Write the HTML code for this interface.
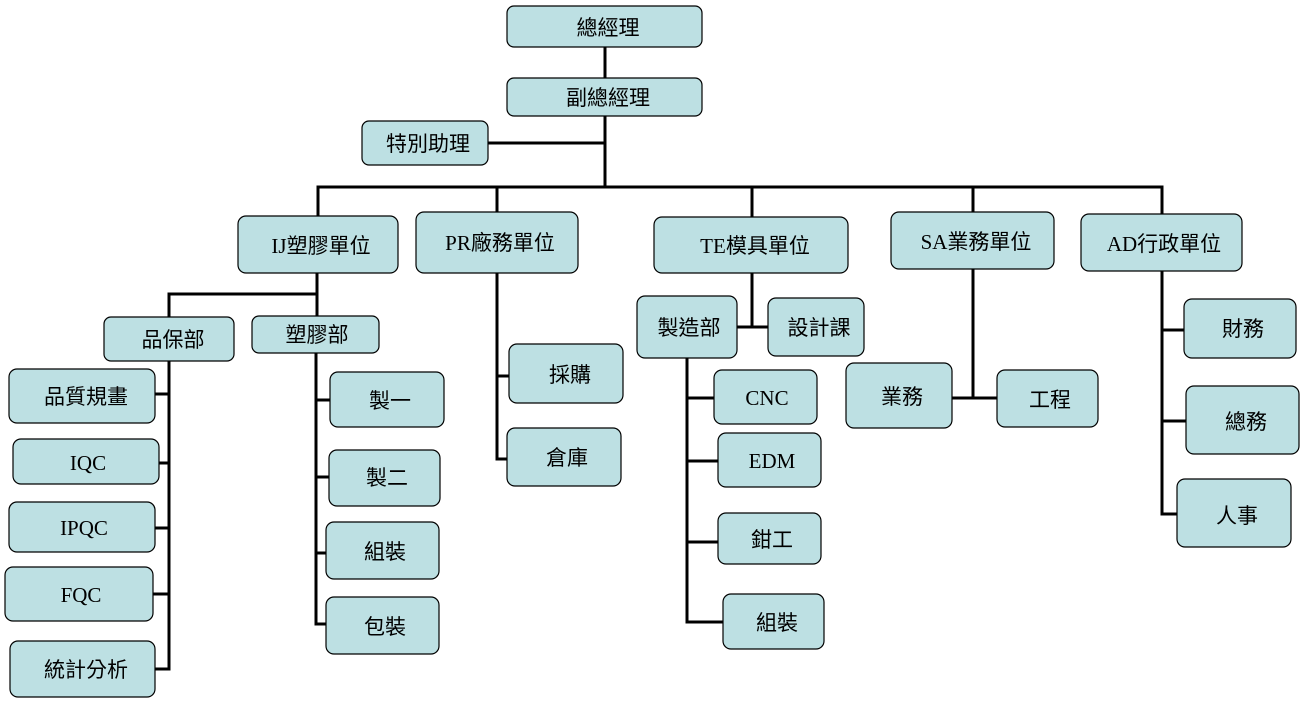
<!DOCTYPE html>
<html>
<head>
<meta charset="utf-8">
<style>
html,body{margin:0;padding:0;background:#fff;}
svg{display:block;}
text{font-family:"Liberation Serif","Noto Sans CJK TC","Noto Sans CJK SC",serif;font-size:21px;fill:#000;}
</style>
</head>
<body>
<svg width="1304" height="702" viewBox="0 0 1304 702" xmlns="http://www.w3.org/2000/svg">
<g stroke="#000" stroke-width="3" stroke-linecap="square" fill="none">
<line x1="605" y1="47" x2="605" y2="187"/>
<line x1="488" y1="143" x2="605" y2="143"/>
<line x1="318" y1="187" x2="1162" y2="187"/>
<line x1="318" y1="187" x2="318" y2="216"/>
<line x1="497" y1="187" x2="497" y2="212"/>
<line x1="752" y1="187" x2="752" y2="217"/>
<line x1="973" y1="187" x2="973" y2="212"/>
<line x1="1162" y1="187" x2="1162" y2="214"/>
<!-- IJ -->
<line x1="317" y1="273" x2="317" y2="316"/>
<line x1="169" y1="294" x2="317" y2="294"/>
<line x1="169" y1="294" x2="169" y2="317"/>
<line x1="169" y1="361" x2="169" y2="669"/>
<line x1="155" y1="394" x2="169" y2="394"/>
<line x1="159" y1="463" x2="169" y2="463"/>
<line x1="155" y1="528" x2="169" y2="528"/>
<line x1="153" y1="594" x2="169" y2="594"/>
<line x1="155" y1="669" x2="169" y2="669"/>
<line x1="316" y1="353" x2="316" y2="624"/>
<line x1="316" y1="400" x2="330" y2="400"/>
<line x1="316" y1="477" x2="329" y2="477"/>
<line x1="316" y1="553" x2="326" y2="553"/>
<line x1="316" y1="624" x2="326" y2="624"/>
<!-- PR -->
<line x1="497" y1="273" x2="497" y2="459"/>
<line x1="497" y1="376" x2="509" y2="376"/>
<line x1="497" y1="459" x2="507" y2="459"/>
<!-- TE -->
<line x1="752" y1="273" x2="752" y2="327"/>
<line x1="737" y1="327" x2="768" y2="327"/>
<line x1="687" y1="358" x2="687" y2="622"/>
<line x1="687" y1="398" x2="714" y2="398"/>
<line x1="687" y1="461" x2="718" y2="461"/>
<line x1="687" y1="542" x2="718" y2="542"/>
<line x1="687" y1="622" x2="723" y2="622"/>
<!-- SA -->
<line x1="973" y1="269" x2="973" y2="398"/>
<line x1="952" y1="398" x2="997" y2="398"/>
<!-- AD -->
<line x1="1162" y1="271" x2="1162" y2="514"/>
<line x1="1162" y1="330" x2="1184" y2="330"/>
<line x1="1162" y1="421" x2="1186" y2="421"/>
<line x1="1162" y1="514" x2="1177" y2="514"/>
</g>
<g fill="#BDE0E3" stroke="#000" stroke-width="1.2">
<rect x="507" y="6" width="195" height="41" rx="7"/>
<rect x="507" y="78" width="195" height="38" rx="7"/>
<rect x="362" y="121" width="126" height="44" rx="7"/>
<rect x="238" y="216" width="160" height="57" rx="8"/>
<rect x="416" y="212" width="162" height="61" rx="8"/>
<rect x="654" y="217" width="194" height="56" rx="8"/>
<rect x="891" y="212" width="163" height="57" rx="8"/>
<rect x="1081" y="214" width="161" height="57" rx="8"/>
<rect x="104" y="317" width="130" height="44" rx="7"/>
<rect x="252" y="316" width="127" height="37" rx="7"/>
<rect x="9" y="369" width="146" height="54" rx="8"/>
<rect x="13" y="439" width="146" height="45" rx="8"/>
<rect x="9" y="502" width="146" height="50" rx="8"/>
<rect x="5" y="567" width="148" height="54" rx="8"/>
<rect x="10" y="641" width="145" height="56" rx="8"/>
<rect x="330" y="372" width="114" height="55" rx="8"/>
<rect x="329" y="450" width="111" height="56" rx="8"/>
<rect x="326" y="522" width="113" height="57" rx="8"/>
<rect x="326" y="597" width="113" height="57" rx="8"/>
<rect x="509" y="344" width="114" height="59" rx="8"/>
<rect x="507" y="428" width="114" height="58" rx="8"/>
<rect x="637" y="296" width="100" height="62" rx="8"/>
<rect x="768" y="298" width="96" height="58" rx="8"/>
<rect x="714" y="370" width="103" height="54" rx="8"/>
<rect x="718" y="433" width="103" height="54" rx="8"/>
<rect x="718" y="513" width="103" height="51" rx="8"/>
<rect x="723" y="594" width="101" height="55" rx="8"/>
<rect x="846" y="363" width="106" height="65" rx="8"/>
<rect x="997" y="370" width="101" height="57" rx="8"/>
<rect x="1184" y="299" width="112" height="59" rx="8"/>
<rect x="1186" y="386" width="113" height="68" rx="8"/>
<rect x="1177" y="479" width="114" height="68" rx="8"/>
</g>
<g text-anchor="middle" dominant-baseline="central">
<text x="608" y="28">總經理</text>
<text x="608" y="98">副總經理</text>
<text x="428" y="144">特別助理</text>
<text x="321" y="246">IJ塑膠單位</text>
<text x="500" y="243">PR廠務單位</text>
<text x="755" y="246">TE模具單位</text>
<text x="976" y="242">SA業務單位</text>
<text x="1164" y="244">AD行政單位</text>
<text x="173" y="340">品保部</text>
<text x="317" y="335">塑膠部</text>
<text x="86" y="397">品質規畫</text>
<text x="88" y="463">IQC</text>
<text x="84" y="528">IPQC</text>
<text x="81" y="595">FQC</text>
<text x="86" y="670">統計分析</text>
<text x="390" y="401">製一</text>
<text x="387" y="478">製二</text>
<text x="385" y="552">組裝</text>
<text x="385" y="627">包裝</text>
<text x="570" y="375">採購</text>
<text x="567" y="458">倉庫</text>
<text x="689" y="328">製造部</text>
<text x="819" y="328">設計課</text>
<text x="767" y="398">CNC</text>
<text x="772" y="461">EDM</text>
<text x="772" y="540">鉗工</text>
<text x="777" y="623">組裝</text>
<text x="902" y="397">業務</text>
<text x="1050" y="400">工程</text>
<text x="1243" y="329">財務</text>
<text x="1246" y="422">總務</text>
<text x="1237" y="516">人事</text>
</g>
</svg>
</body>
</html>
